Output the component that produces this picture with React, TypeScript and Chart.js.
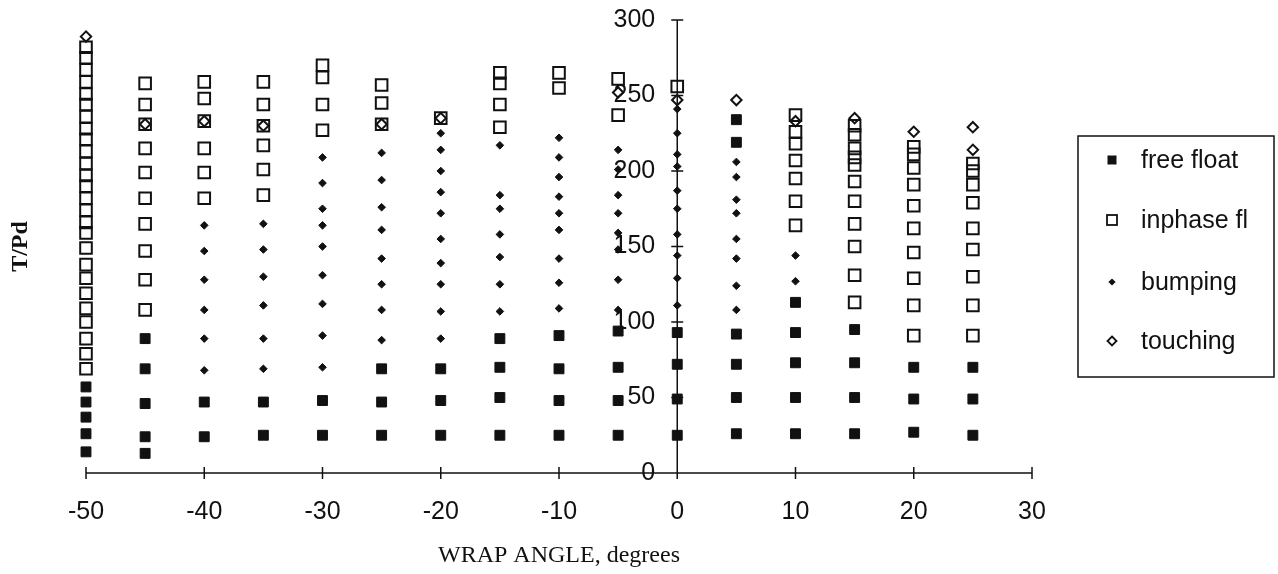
import React, { useEffect, useRef } from 'react';
import { Chart, registerables } from 'chart.js';

Chart.register(...registerables);

const angles = [-50, -45, -40, -35, -30, -25, -20, -15, -10, -5, 0, 5, 10, 15, 20, 25];

const freeFloat: number[][] = [
  [57, 47, 37, 26, 14],
  [89, 69, 46, 24, 13],
  [47, 24],
  [47, 25],
  [48, 25],
  [69, 47, 25],
  [69, 48, 25],
  [89, 70, 50, 25],
  [91, 69, 48, 25],
  [94, 70, 48, 25],
  [93, 72, 49, 25],
  [234, 219, 92, 72, 50, 26],
  [113, 93, 73, 50, 26],
  [95, 73, 50, 26],
  [70, 49, 27],
  [70, 49, 25],
];

const inphase: number[][] = [
  [282, 275, 267, 259, 251, 244, 236, 228, 221, 213, 205, 197, 190, 182, 174, 166, 159, 149, 138, 129, 119, 109, 100, 89, 79, 69],
  [258, 244, 231, 215, 199, 182, 165, 147, 128, 108],
  [259, 248, 233, 215, 199, 182],
  [259, 244, 230, 217, 201, 184],
  [270, 262, 244, 227],
  [257, 245, 231],
  [235],
  [265, 258, 244, 229],
  [265, 255],
  [261, 237],
  [256],
  [],
  [237, 226, 218, 207, 195, 180, 164],
  [230, 224, 215, 209, 204, 193, 180, 165, 150, 131, 113],
  [216, 211, 202, 191, 177, 162, 146, 129, 111, 91],
  [205, 200, 191, 179, 162, 148, 130, 111, 91],
];

const bumping: number[][] = [
  [],
  [],
  [164, 147, 128, 108, 89, 68],
  [165, 148, 130, 111, 89, 69],
  [209, 192, 175, 164, 150, 131, 112, 91, 70],
  [212, 194, 176, 161, 142, 125, 108, 88],
  [225, 214, 200, 186, 172, 155, 139, 125, 107, 89],
  [217, 184, 175, 158, 143, 125, 107],
  [222, 209, 196, 183, 172, 161, 142, 126, 109],
  [214, 201, 184, 172, 159, 148, 128, 108],
  [241, 225, 211, 203, 187, 175, 158, 144, 129, 111],
  [206, 196, 181, 172, 155, 142, 124, 108],
  [144, 127],
  [],
  [],
  [],
];

const touching: number[][] = [
  [289], [231], [233], [230], [], [231], [235], [], [], [252], [247], [247], [233], [235], [226], [229, 214],
];

const seriesNames = ['free float', 'inphase fl', 'bumping', 'touching'];
const xTitle = 'WRAP ANGLE, degrees';
const yTitle = 'T/Pd';

const INK = '#111111';
const PLOT_TOP = 20;

function toPoints(cols: number[][]) {
  const pts: { x: number; y: number }[] = [];
  angles.forEach((a, i) => cols[i].forEach((v) => pts.push({ x: a, y: v })));
  return pts;
}

// Fixes the plot top and moves the value axis so that it crosses the x axis at x = 0.
const centerYAxis = {
  id: 'centerYAxis',
  afterLayout(chart: any) {
    const area = chart.chartArea;
    area.top = PLOT_TOP;
    area.height = area.bottom - area.top;
    ['y', 'yTitle'].forEach((id) => {
      const s = chart.scales[id];
      s.top = PLOT_TOP;
      s.height = s.bottom - s.top;
      s.configure();
    });
    const y = chart.scales.y;
    const x0 = chart.scales.x.getPixelForValue(0);
    y.left = x0 - 140;
    y.right = x0;
    y.width = 140;
    y._labelItems = null;
    y._gridLineItems = null;
  },
};

const crossAxes = {
  id: 'crossAxes',
  beforeDatasetsDraw(chart: any) {
    const { ctx } = chart;
    const x = chart.scales.x;
    const y = chart.scales.y;
    const x0 = x.getPixelForValue(0);
    const yb = y.getPixelForValue(0);
    const yt = y.getPixelForValue(300);
    ctx.save();
    ctx.strokeStyle = INK;
    ctx.lineWidth = 1.5;
    ctx.beginPath();
    ctx.moveTo(x.left, yb);
    ctx.lineTo(x.right, yb);
    ctx.moveTo(x0, yt);
    ctx.lineTo(x0, yb);
    x.ticks.forEach((t: any) => {
      const px = x.getPixelForValue(t.value);
      ctx.moveTo(px, yb - 6);
      ctx.lineTo(px, yb + 6);
    });
    y.ticks.forEach((t: any) => {
      const py = y.getPixelForValue(t.value);
      ctx.moveTo(x0 - 6, py);
      ctx.lineTo(x0 + 6, py);
    });
    ctx.stroke();
    ctx.restore();
  },
};

const boxLegend = {
  id: 'boxLegend',
  afterDraw(chart: any) {
    const { ctx } = chart;
    const left = 1078;
    const top = 136;
    const right = 1274;
    const bottom = 377;
    ctx.save();
    ctx.strokeStyle = INK;
    ctx.lineWidth = 1.5;
    ctx.strokeRect(left, top, right - left, bottom - top);
    const rows = [160, 220, 282, 341];
    const mx = 1112;
    chart.data.datasets.forEach((ds: any, i: number) => {
      const cy = rows[i];
      ctx.beginPath();
      if (ds.pointStyle === 'rect') {
        const s = i === 0 ? 9 : 10;
        if (i === 0) {
          ctx.fillStyle = INK;
          ctx.fillRect(mx - s / 2, cy - s / 2, s, s);
        } else {
          ctx.lineWidth = 1.8;
          ctx.strokeRect(mx - s / 2, cy - s / 2, s, s);
        }
      } else {
        const r = i === 2 ? 3.6 : 4.5;
        ctx.moveTo(mx, cy - r);
        ctx.lineTo(mx + r, cy);
        ctx.lineTo(mx, cy + r);
        ctx.lineTo(mx - r, cy);
        ctx.closePath();
        if (i === 2) {
          ctx.fillStyle = INK;
          ctx.fill();
        } else {
          ctx.lineWidth = 1.8;
          ctx.stroke();
        }
      }
      ctx.fillStyle = INK;
      ctx.font = '25px "Liberation Sans", Arial, sans-serif';
      ctx.textBaseline = 'middle';
      ctx.textAlign = 'left';
      ctx.fillText(ds.label, 1141, cy + 1);
    });
    ctx.restore();
  },
};

export default function App() {
  const ref = useRef<HTMLCanvasElement | null>(null);

  useEffect(() => {
    if (!ref.current) return;
    const tickFont = { family: '"Liberation Sans", Arial, sans-serif', size: 25 };
    const chart = new Chart(ref.current, {
      type: 'scatter',
      data: {
        datasets: [
          {
            label: seriesNames[0],
            data: toPoints(freeFloat),
            pointStyle: 'rect',
            pointRadius: 7,
            backgroundColor: INK,
            borderColor: INK,
            borderWidth: 1,
            clip: false,
          },
          {
            label: seriesNames[1],
            data: toPoints(inphase),
            pointStyle: 'rect',
            pointRadius: 8.2,
            backgroundColor: 'rgba(0,0,0,0)',
            borderColor: INK,
            borderWidth: 2,
            clip: false,
          },
          {
            label: seriesNames[2],
            data: toPoints(bumping),
            pointStyle: 'rectRot',
            pointRadius: 3.8,
            backgroundColor: INK,
            borderColor: INK,
            borderWidth: 1,
            clip: false,
          },
          {
            label: seriesNames[3],
            data: toPoints(touching),
            pointStyle: 'rectRot',
            pointRadius: 5.2,
            backgroundColor: 'rgba(0,0,0,0)',
            borderColor: INK,
            borderWidth: 2,
            clip: false,
          },
        ] as any,
      },
      options: {
        animation: false,
        responsive: true,
        maintainAspectRatio: false,
        layout: { padding: { left: 0, top: 20, right: 246, bottom: 0 } },
        plugins: { legend: { display: false }, tooltip: { enabled: false } },
        scales: {
          x: {
            type: 'linear',
            position: 'bottom',
            min: -50,
            max: 30,
            ticks: { stepSize: 10, color: INK, font: tickFont, padding: 24, maxRotation: 0 },
            grid: { display: false, drawTicks: false },
            border: { display: false },
            title: {
              display: true,
              text: xTitle,
              color: INK,
              font: { family: '"Liberation Serif", "Times New Roman", serif', size: 24 },
              padding: { top: 0, bottom: 4 },
            },
            afterFit: (scale: any) => {
              scale.height = 101;
            },
          },
          y: {
            type: 'linear',
            position: 'left',
            min: 0,
            max: 300,
            ticks: { stepSize: 50, color: INK, font: tickFont, padding: 22 },
            grid: { display: false, drawTicks: false },
            border: { display: false },
            afterFit: (scale: any) => {
              scale.width = 0;
              scale.paddingTop = 0;
              scale.paddingBottom = 0;
            },
          },
          yTitle: {
            type: 'linear',
            position: 'left',
            display: true,
            ticks: { display: false },
            grid: { display: false, drawTicks: false },
            border: { display: false },
            title: {
              display: true,
              text: yTitle,
              color: INK,
              font: { family: '"Liberation Serif", "Times New Roman", serif', size: 24, weight: 'bold' },
              padding: { top: 6, bottom: 0 },
            },
            afterFit: (scale: any) => {
              scale.width = 86;
            },
          },
        } as any,
      },
      plugins: [centerYAxis, crossAxes, boxLegend],
    });
    return () => chart.destroy();
  }, []);

  return (
    <div style={{ position: 'absolute', left: 0, top: 0, width: 1278, height: 574, background: '#fff' }}>
      <canvas ref={ref} />
    </div>
  );
}
